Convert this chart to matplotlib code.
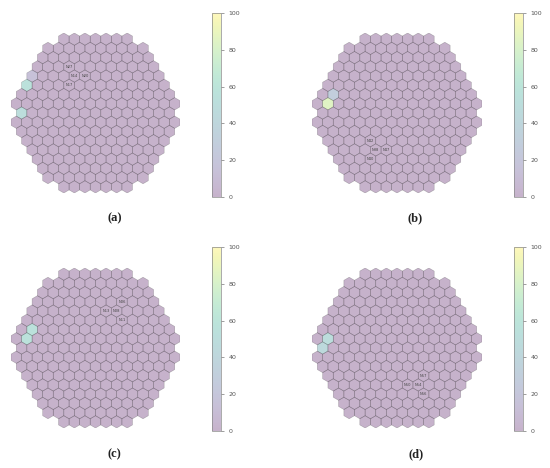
import numpy as np
import matplotlib
matplotlib.use('Agg')
import matplotlib.pyplot as plt
from matplotlib.patches import RegularPolygon
from matplotlib.collections import PatchCollection

# layout of the hex grid: left offset (in half cells) and number of cells per row
row_offsets = [9, 6, 5, 4, 3, 2, 1, 0, 1, 0, 1, 2, 3, 4, 5, 6, 9]
row_lengths = [7, 10, 11, 12, 13, 14, 15, 16, 15, 16, 15, 14, 13, 12, 11, 10, 7]

panels = ['a', 'b', 'c', 'd']

# non-zero cells per panel: (row, col), value
hot_cells = {
    'a': [(4, 0), (5, 0), (8, 0)],
    'b': [(6, 1), (7, 1)],
    'c': [(6, 1), (7, 1)],
    'd': [(7, 1), (8, 0)],
}
hot_values = {
    'a': [15, 55, 50],
    'b': [30, 85],
    'c': [55, 55],
    'd': [50, 45],
}

# node labels per panel: (row, col), text
label_cells = {
    'a': [(3, 3), (4, 4), (4, 5), (5, 4)],
    'b': [(11, 4), (12, 4), (12, 5), (13, 3)],
    'c': [(3, 8), (4, 7), (4, 8), (5, 9)],
    'd': [(11, 9), (12, 7), (12, 8), (13, 8)],
}
label_texts = {
    'a': ['N27', 'N14', 'N20', 'N17'],
    'b': ['N42', 'N38', 'N47', 'N40'],
    'c': ['N06', 'N13', 'N08', 'N11'],
    'd': ['N57', 'N50', 'N54', 'N56'],
}

H = np.sqrt(3) / 2


def center(r, c):
    return (row_offsets[r] + 1 + 2 * c) * H, -1.5 * r


W, Hh = 550, 468
fig = plt.figure(figsize=(5.5, 4.68), dpi=100)

# pixel boxes: hex axes (x0, y0, x1, y1), colorbar (x0, y0, x1, y1), caption (x, y)
boxes = {
    'a': ((11, 33, 180, 193), (212, 13, 221, 197), (115, 218)),
    'b': ((312, 33, 482, 193), (514, 13, 523, 197), (415, 218)),
    'c': ((11, 268, 180, 428), (212, 247, 221, 431), (114, 454)),
    'd': ((312, 268, 482, 428), (514, 247, 523, 431), (416, 454)),
}


def rect(b):
    x0, y0, x1, y1 = b
    return [x0 / W, 1 - y1 / Hh, (x1 - x0) / W, (y1 - y0) / Hh]


for p in panels:
    hb, cb, cap = boxes[p]
    ax = fig.add_axes(rect(hb))
    vals = {}
    for (rc, v) in zip(hot_cells[p], hot_values[p]):
        vals[rc] = v
    patches, data = [], []
    for r in range(len(row_lengths)):
        for c in range(row_lengths[r]):
            x, y = center(r, c)
            patches.append(RegularPolygon((x, y), numVertices=6, radius=1.0, orientation=0))
            data.append(vals.get((r, c), 0))
    pc = PatchCollection(patches, cmap='viridis', alpha=0.3, edgecolor='#2a2a2a', linewidth=0.4)
    pc.set_array(np.array(data, dtype=float))
    pc.set_clim(0, 100)
    ax.add_collection(pc)
    for (r, c), t in zip(label_cells[p], label_texts[p]):
        x, y = center(r, c)
        ax.text(x, y, t, fontsize=2.6, color='#444444', ha='center', va='center')
    ax.set_xlim(0, 32 * H)
    ax.set_ylim(-25, 1)
    ax.axis('off')

    cax = fig.add_axes(rect(cb))
    cbar = fig.colorbar(pc, cax=cax, ticks=[0, 20, 40, 60, 80, 100])
    cbar.outline.set_linewidth(0.5)
    cbar.outline.set_edgecolor('#888888')
    cax.tick_params(labelsize=4.5, colors='#555555', length=2, width=0.4)

    fig.text(cap[0] / W, 1 - cap[1] / Hh, '(' + p + ')', fontsize=9, fontweight='bold',
             family='Liberation Serif', ha='center', va='center', color='#222222')

fig.savefig('out.png', dpi=100)
